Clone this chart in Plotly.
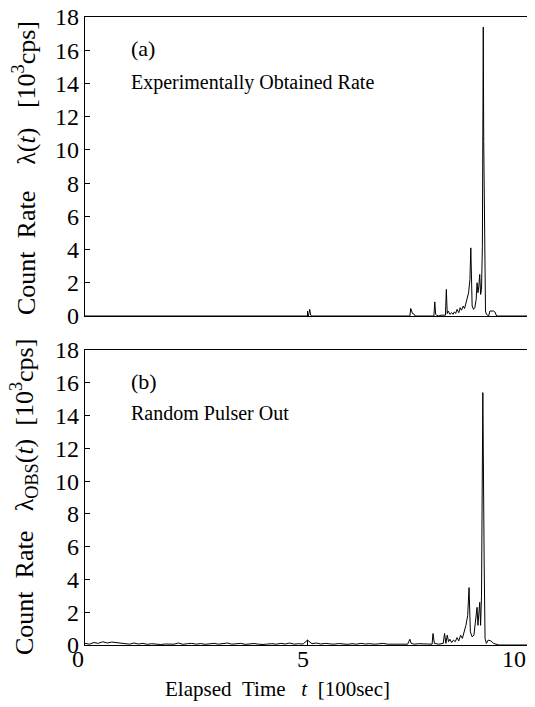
import plotly.graph_objects as go

# ---- data ----
# (a) Experimentally obtained rate  [10^3 cps] vs elapsed time [100 sec]
t_a = [0.0, 5.02, 5.05, 5.07, 5.10, 7.30, 7.32, 7.36, 7.40, 7.42, 7.84, 7.86, 7.88, 7.90,
       7.95, 8.00, 8.10, 8.12, 8.14, 8.16, 8.20, 8.24, 8.27, 8.30, 8.33, 8.36, 8.40, 8.43,
       8.46, 8.50, 8.53, 8.56, 8.59, 8.62, 8.65, 8.67, 8.70, 8.73, 8.76, 8.79, 8.81, 8.83,
       8.85, 8.87, 8.89, 8.91, 8.93, 8.95, 8.96, 8.97, 8.98, 9.00, 9.02, 9.05, 9.07, 9.10,
       9.18, 9.21, 9.25, 10.0]
rate_a = [0.0, 0.0, 0.4, 0.05, 0.0, 0.0, 0.45, 0.15, 0.1, 0.0, 0.0, 0.85, 0.1, 0.05,
          0.0, 0.05, 0.05, 1.6, 0.15, 0.3, 0.1, 0.2, 0.1, 0.25, 0.15, 0.4, 0.2, 0.5,
          0.35, 0.6, 0.45, 0.8, 1.0, 1.4, 2.2, 4.1, 0.6, 0.4, 0.5, 1.0, 2.0, 1.4,
          1.8, 2.5, 1.3, 1.6, 4.2, 17.4, 10.5, 6.6, 6.0, 0.3, 0.1, 0.05, 0.0, 0.3,
          0.3, 0.25, 0.0, 0.0]

# (b) Random pulser out
t_b = [0.0, 0.1, 0.2, 0.3, 0.4, 0.5, 0.6, 0.7, 0.8, 0.9, 1.0, 1.1, 1.2, 1.3, 1.4, 1.5,
       1.6, 1.7, 1.8, 1.9, 2.0, 2.1, 2.2, 2.3, 2.4, 2.5, 2.6, 2.7, 2.8, 2.9, 3.0, 3.1,
       3.2, 3.3, 3.4, 3.5, 3.6, 3.7, 3.8, 3.9, 4.0, 4.1, 4.2, 4.3, 4.4, 4.5, 4.6, 4.7,
       4.8, 4.9, 5.0, 5.1, 5.2, 5.3, 5.4, 5.5, 5.6, 5.7, 5.8, 5.9, 6.0, 6.1, 6.2, 6.3,
       6.4, 6.5, 6.6, 6.7, 6.8, 6.9, 7.0, 7.1,
       7.25, 7.30, 7.33, 7.40, 7.50, 7.60, 7.70, 7.80, 7.82, 7.85, 7.95, 8.05, 8.08, 8.11,
       8.14, 8.17, 8.20, 8.24, 8.28, 8.32, 8.36, 8.40, 8.44, 8.48, 8.52, 8.56, 8.60, 8.63,
       8.66, 8.70, 8.74, 8.78, 8.81, 8.83, 8.85, 8.87, 8.89, 8.91, 8.94, 8.95, 8.97, 8.99,
       9.02, 9.06, 9.12, 9.18, 9.24, 9.30, 10.0]
rate_b = [0.1, 0.05, 0.15, 0.1, 0.2, 0.12, 0.18, 0.15, 0.1, 0.08, 0.05, 0.12, 0.06, 0.1, 0.04, 0.08,
          0.05, 0.03, 0.06, 0.04, 0.05, 0.12, 0.04, 0.08, 0.1, 0.05, 0.09, 0.04, 0.07, 0.1, 0.05, 0.08,
          0.12, 0.05, 0.07, 0.1, 0.04, 0.06, 0.09, 0.05, 0.03, 0.06, 0.08, 0.05, 0.1, 0.06, 0.12, 0.05,
          0.08, 0.06, 0.3, 0.08, 0.12, 0.06, 0.1, 0.07, 0.05, 0.09, 0.06, 0.04, 0.08, 0.05, 0.1, 0.06,
          0.08, 0.05, 0.07, 0.1, 0.05, 0.06, 0.08, 0.05,
          0.05, 0.35, 0.1, 0.05, 0.08, 0.05, 0.06, 0.05, 0.7, 0.1, 0.05, 0.1, 0.7, 0.1,
          0.6, 0.2, 0.35, 0.15, 0.3, 0.2, 0.45, 0.25, 0.6, 0.4, 0.8, 1.2, 1.8, 3.5,
          0.8, 0.5, 0.6, 1.5, 2.3, 1.2, 1.8, 2.6, 1.2, 3.0, 15.4, 8.0, 5.0, 0.4,
          0.1, 0.3, 0.25, 0.1, 0.05, 0.0, 0.0]

y_ticks = [0, 2, 4, 6, 8, 10, 12, 14, 16, 18]
x_ticks = [0, 5, 10]
x_ticktext = ["0", "5", "10"]
x_label_shift = [-7, -5, -16]

FONT = "Liberation Serif"
OFF = 8  # page body margin offset
W, H = 535 - OFF, 707 - OFF
ML, MR, MT = 85 - OFF, 5, 17 - OFF
MB = H - (645 - OFF)

fig = go.Figure()
fig.add_trace(go.Scatter(x=t_a, y=rate_a, mode="lines", line=dict(color="black", width=1),
                         xaxis="x", yaxis="y", showlegend=False, hoverinfo="skip"))
fig.add_trace(go.Scatter(x=t_b, y=rate_b, mode="lines", line=dict(color="black", width=1),
                         xaxis="x2", yaxis="y2", showlegend=False, hoverinfo="skip"))

axis_common = dict(showline=True, mirror=True, linecolor="black", linewidth=1.2,
                   ticks="inside", ticklen=5, tickcolor="black", showgrid=False,
                   zeroline=False, automargin=False, ticklabeloverflow="allow",
                   tickfont=dict(family=FONT, size=24, color="black"))

plot_h = H - MT - MB
top_dom = [(645 - 316) / plot_h, 1.0]
bot_dom = [0.0, (645 - 350) / plot_h]

fig.update_layout(
    width=W, height=H,
    margin=dict(l=ML, r=MR, t=MT, b=MB, autoexpand=False),
    paper_bgcolor="white", plot_bgcolor="white",
    xaxis=dict(axis_common, range=[0, 10], domain=[0, 1], anchor="y",
               tickvals=x_ticks, showticklabels=False),
    yaxis=dict(axis_common, range=[0, 18], domain=top_dom, anchor="x",
               tickvals=y_ticks),
    xaxis2=dict(axis_common, range=[0, 10], domain=[0, 1], anchor="y2",
                tickvals=x_ticks, showticklabels=False),
    yaxis2=dict(axis_common, range=[0, 18], domain=bot_dom, anchor="x2",
                tickvals=y_ticks),
)

def px_x(px):
    return (px - OFF - ML) / (W - ML - MR)

def px_y(py):
    return (H - MB - (py - OFF)) / plot_h

# x tick labels of the lower panel, placed on the data axis
for xv, txt, sh in zip(x_ticks, x_ticktext, x_label_shift):
    fig.add_annotation(text=txt, x=xv, xref="x2", y=px_y(659), yref="paper",
                       xanchor="center", yanchor="middle", xshift=sh, showarrow=False,
                       font=dict(family=FONT, size=24, color="black"))

nb = "\u00a0"
ann = [
    dict(text="(a)", x=px_x(129), y=px_y(48), xanchor="left", yanchor="middle", size=22),
    dict(text="Experimentally Obtained Rate", x=px_x(129), y=px_y(82), xanchor="left",
         yanchor="middle", size=20),
    dict(text="(b)", x=px_x(129), y=px_y(381), xanchor="left", yanchor="middle", size=22),
    dict(text="Random Pulser Out", x=px_x(129), y=px_y(413), xanchor="left",
         yanchor="middle", size=20),
    dict(text="Elapsed" + nb * 2 + "Time" + nb * 3 + "<i>t</i>" + nb * 2 + "[100sec]",
         x=px_x(277), y=px_y(689), xanchor="center", yanchor="middle", size=21),
    dict(text="Count" + nb * 2 + "Rate" + nb * 4 + "λ(<i>t</i>)" + nb * 3 + "[10<sup>3</sup>cps]",
         x=px_x(24), y=px_y(168), xanchor="center", yanchor="middle", size=26, angle=-90),
    dict(text="Count" + nb * 2 + "Rate" + nb * 3 + "λ<sub>OBS</sub>(<i>t</i>)" + nb * 2
         + "[10<sup>3</sup>cps]",
         x=px_x(24), y=px_y(497), xanchor="center", yanchor="middle", size=26, angle=-90),
]
for a in ann:
    fig.add_annotation(text=a["text"], x=a["x"], y=a["y"], xref="paper", yref="paper",
                       xanchor=a["xanchor"], yanchor=a["yanchor"], showarrow=False,
                       textangle=a.get("angle", 0),
                       font=dict(family=FONT, size=a["size"], color="black"))

fig.write_html("out.html")
